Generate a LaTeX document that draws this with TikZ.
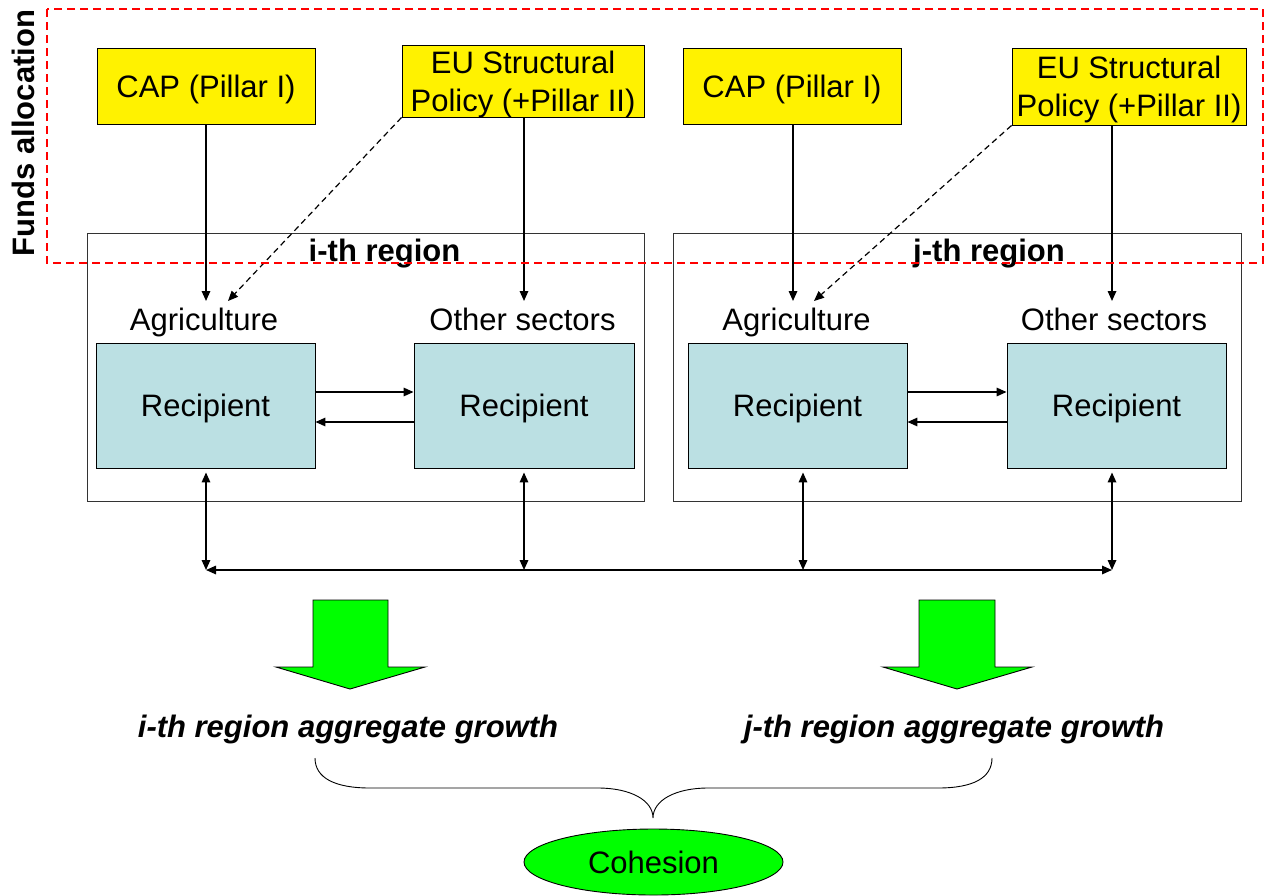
\documentclass[tikz,border=0pt]{standalone}
\usepackage{fontspec}
\setmainfont{Liberation Sans}
\usetikzlibrary{arrows.meta,shapes.geometric,calc}
\definecolor{recipblue}{HTML}{BBE0E3}

\tikzset{
  fund/.style={draw=black, line width=0.9pt, fill=yellow, inner sep=0pt,
    align=center, text depth=0pt},
  recip/.style={draw=black, line width=0.9pt, fill=recipblue, minimum height=125pt,
    inner sep=0pt, text depth=0pt},
  regionbox/.style={draw=black!80, line width=0.9pt, minimum height=268pt, inner sep=0pt},
  lbl/.style={inner sep=0pt, anchor=base},
  flow/.style={line width=1.6pt, -{Triangle[length=10pt,width=8.5pt]}},
  both/.style={line width=1.6pt, {Triangle[length=10pt,width=8.5pt]}-{Triangle[length=10pt,width=8.5pt]}},
  alloc/.style={line width=1.2pt, dash pattern=on 6pt off 4pt, -{Triangle[length=10pt,width=8.5pt]}},
  growth/.style={draw=black, line width=0.9pt, fill=green},
  brace/.style={draw=black, line width=0.9pt},
}

\begin{document}
\begin{tikzpicture}[x=1pt, y=-1pt, font=\fontsize{31}{38}\selectfont]
\useasboundingbox (0,0) rectangle (1265,895);

% regions
\node[regionbox, minimum width=557pt] (regA) at (365.5,367) {};
\node[regionbox, minimum width=568pt] (regB) at (957,367.5) {};
\node[lbl, font=\fontsize{31}{38}\selectfont\bfseries] (titA) at (384.5,261) {i-th region};
\node[lbl, font=\fontsize{31}{38}\selectfont\bfseries] (titB) at (989,261) {j-th region};

% funding sources
\node[fund, minimum width=218pt, minimum height=76pt] (capA) at (206,86) {CAP (Pillar I)};
\node[fund, minimum width=242pt, minimum height=72pt] (euA) at (523,81) {EU Structural\\Policy (+Pillar II)};
\node[fund, minimum width=218pt, minimum height=76pt] (capB) at (792,86) {CAP (Pillar I)};
\node[fund, minimum width=234pt, minimum height=77pt] (euB) at (1129,86.5) {EU Structural\\Policy (+Pillar II)};

% sector labels
\node[lbl] (agA) at (204,330) {Agriculture};
\node[lbl] (osA) at (522.5,330) {Other sectors};
\node[lbl] (agB) at (796.5,330) {Agriculture};
\node[lbl] (osB) at (1114,330) {Other sectors};

% recipients
\node[recip, minimum width=219pt] (rA1) at (205.5,405.5) {Recipient};
\node[recip, minimum width=220pt] (rA2) at (524,405.5) {Recipient};
\node[recip, minimum width=219pt] (rB1) at (797.5,405.5) {Recipient};
\node[recip, minimum width=219pt] (rB2) at (1116.5,405.5) {Recipient};

% arrow ends above the sector labels
\coordinate (capAend) at (206,301);
\coordinate (euAdash) at (228,301);
\coordinate (euAend) at (524,301);
\coordinate (capBend) at (793,301);
\coordinate (euBdash) at (814,301);
\coordinate (euBend) at (1112,301);

\draw[flow] (capA.south) -- (capAend);
\draw[alloc] (euA.south west) -- (euAdash);
\draw[flow] (euAend |- euA.south) -- (euAend);
\draw[flow] (capBend |- capB.south) -- (capBend);
\draw[alloc] (euB.south west) -- (euBdash);
\draw[flow] (euBend |- euB.south) -- (euBend);

% exchanges between sectors
\draw[flow] ([yshift=13.5pt]rA1.east) -- ([yshift=13.5pt]rA2.west);
\draw[flow] ([yshift=-16.5pt]rA2.west) -- ([yshift=-16.5pt]rA1.east);
\draw[flow] ([yshift=13.5pt]rB1.east) -- ([yshift=13.5pt]rB2.west);
\draw[flow] ([yshift=-16.5pt]rB2.west) -- ([yshift=-16.5pt]rB1.east);

% interregional links
\coordinate (busA) at (206,570);
\coordinate (busB) at (524,570);
\coordinate (busC) at (803,570);
\coordinate (busD) at (1112,570);
\draw[both] (busA) -- (busD);
\draw[both, shorten <=4pt] (busA |- rA1.south) -- (busA);
\draw[both, shorten <=4pt] (busB |- rA2.south) -- (busB);
\draw[both, shorten <=4pt] (busC |- rB1.south) -- (busC);
\draw[both, shorten <=4pt] (busD |- rB2.south) -- (busD);

% growth arrows
\draw[growth] (313,600) -- (388,600) -- (388,667) -- (425,667) -- (350,689)
  -- (276,667) -- (313,667) -- cycle;
\draw[growth] (919,600) -- (995,600) -- (995,667) -- (1032,667) -- (957,689)
  -- (883,667) -- (919,667) -- cycle;

\node[lbl, font=\fontsize{31}{38}\selectfont\bfseries\itshape] (grA) at (348,737) {i-th region aggregate growth};
\node[lbl, font=\fontsize{31}{38}\selectfont\bfseries\itshape] (grB) at (954,737) {j-th region aggregate growth};

% brace
\coordinate (brL) at (315,758);
\coordinate (brM) at (653,818);
\coordinate (brR) at (992,758);
\draw[brace] (brL) .. controls (315,778) and (335,788) .. (370,788) -- (598,788)
  .. controls (630,788) and (653,800) .. (brM)
  .. controls (653,800) and (676,788) .. (708,788) -- (938,788)
  .. controls (973,788) and (992,778) .. (brR);

\node[ellipse, draw=black, line width=0.9pt, fill=green, minimum width=259pt,
  minimum height=66pt, inner sep=0pt] (coh) at (653.5,862) {Cohesion};

% funds allocation frame
\node[rotate=90, inner sep=0pt, font=\fontsize{31}{38}\selectfont\bfseries] (funds) at (23.5,133) {Funds allocation};
\draw[red, line width=1.3pt, dash pattern=on 8pt off 5pt] (47,9) rectangle (1263,263);
\end{tikzpicture}
\end{document}
